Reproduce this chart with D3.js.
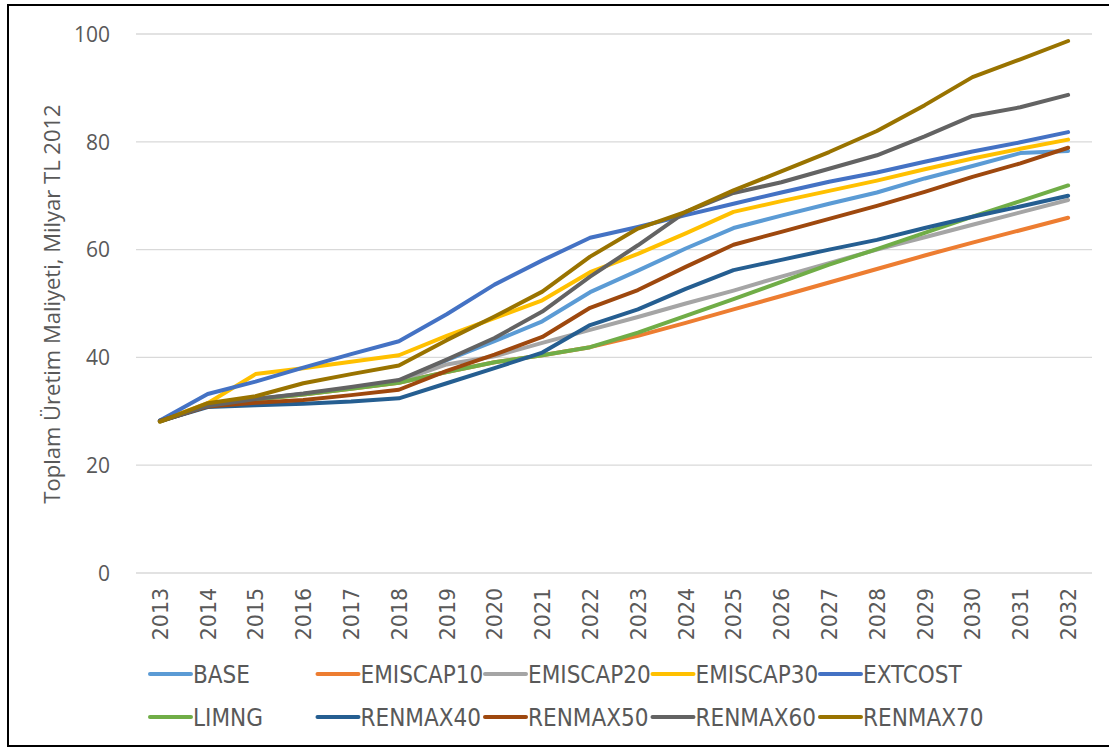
<!DOCTYPE html>
<html>
<head>
<meta charset="utf-8">
<script src="https://cdn.jsdelivr.net/npm/d3@7/dist/d3.min.js"></script>
<style>
  html, body { margin: 0; padding: 0; background: #fff; }
  svg { display: block; }
</style>
</head>
<body>
<svg id="chart" width="1109" height="749"></svg>
<script>
// Annual total generation cost per scenario (billion TL, 2012 prices)
const years = [2013, 2014, 2015, 2016, 2017, 2018, 2019, 2020, 2021, 2022,
               2023, 2024, 2025, 2026, 2027, 2028, 2029, 2030, 2031, 2032];

const seriesNames = ["BASE", "EMISCAP10", "EMISCAP20", "EMISCAP30", "EXTCOST",
                     "LIMNG", "RENMAX40", "RENMAX50", "RENMAX60", "RENMAX70"];

const base      = [28.3, 31.0, 32.3, 33.2, 34.3, 35.6, 39.5, 43.0, 46.7, 52.1, 56.1, 60.2, 64.0, 66.3, 68.5, 70.6, 73.2, 75.5, 77.9, 78.3];
const emiscap10 = [28.1, 31.0, 32.2, 33.1, 34.2, 35.3, 37.3, 39.1, 40.4, 41.9, 44.0, 46.4, 48.9, 51.4, 53.9, 56.4, 58.9, 61.3, 63.6, 65.9];
const emiscap20 = [28.2, 31.0, 32.3, 33.2, 34.3, 35.6, 38.7, 40.2, 42.7, 45.1, 47.5, 50.0, 52.4, 55.0, 57.5, 60.0, 62.3, 64.6, 66.9, 69.2];
const emiscap30 = [28.2, 31.5, 36.9, 38.0, 39.2, 40.4, 44.0, 47.3, 50.6, 55.8, 59.2, 63.0, 67.0, 69.0, 70.9, 72.8, 74.9, 76.9, 78.7, 80.4];
const extcost   = [28.3, 33.2, 35.5, 38.1, 40.6, 43.0, 48.0, 53.5, 58.0, 62.2, 64.2, 66.4, 68.5, 70.6, 72.6, 74.3, 76.3, 78.2, 79.9, 81.8];
const limng     = [28.1, 31.0, 32.2, 33.1, 34.2, 35.3, 37.3, 39.1, 40.4, 41.9, 44.6, 47.7, 50.8, 54.0, 57.2, 60.1, 63.1, 66.1, 69.0, 71.9];
const renmax40  = [28.2, 30.8, 31.1, 31.4, 31.8, 32.4, 35.2, 38.0, 40.9, 46.0, 48.9, 52.7, 56.2, 58.1, 60.0, 61.8, 64.0, 66.1, 68.0, 70.0];
const renmax50  = [28.2, 30.9, 31.6, 32.1, 33.0, 34.0, 37.5, 40.5, 43.8, 49.2, 52.5, 56.8, 60.9, 63.3, 65.7, 68.1, 70.7, 73.5, 76.0, 78.9];
const renmax60  = [28.2, 31.0, 32.3, 33.3, 34.5, 35.8, 39.6, 43.6, 48.5, 55.0, 60.8, 67.0, 70.5, 72.5, 75.0, 77.5, 81.0, 84.8, 86.4, 88.7];
const renmax70  = [28.1, 31.5, 32.8, 35.2, 36.9, 38.5, 43.2, 47.6, 52.2, 58.7, 63.9, 67.0, 71.0, 74.5, 78.1, 82.0, 86.8, 92.0, 95.3, 98.7];

const seriesValues = [base, emiscap10, emiscap20, emiscap30, extcost,
                      limng, renmax40, renmax50, renmax60, renmax70];

const seriesColors = ["#5B9BD5", "#ED7D31", "#A5A5A5", "#FFC000", "#4472C4",
                      "#70AD47", "#255E91", "#9E480E", "#636363", "#997300"];

const yTicks = [0, 20, 40, 60, 80, 100];
const yTitle = "Toplam Üretim Maliyeti, Milyar TL 2012";

const svg = d3.select("#chart");
const textColor = "#595959";
const tickFont = "'Open Sans', 'Segoe UI', sans-serif";

// outer frame
svg.append("rect")
  .attr("x", 8).attr("y", 5)
  .attr("width", 1120).attr("height", 741)
  .attr("fill", "#fff")
  .attr("stroke", "#000").attr("stroke-width", 2);

const plot = { left: 136, right: 1092, top: 34, bottom: 573 };

const x = d3.scalePoint()
  .domain(years)
  .range([plot.left, plot.right])
  .padding(0.5);

const y = d3.scaleLinear()
  .domain([0, 100])
  .range([plot.bottom, plot.top]);

// horizontal gridlines
svg.append("g")
  .selectAll("line")
  .data(yTicks)
  .join("line")
  .attr("x1", plot.left).attr("x2", plot.right)
  .attr("y1", d => y(d)).attr("y2", d => y(d))
  .attr("stroke", "#d9d9d9").attr("stroke-width", 1.3);

// y axis labels
const yAxis = svg.append("g")
  .attr("transform", `translate(${plot.left - 26},0)`)
  .call(d3.axisLeft(y).tickValues(yTicks).tickSize(0).tickPadding(0));
yAxis.select(".domain").remove();
yAxis.selectAll("text")
  .attr("fill", textColor)
  .style("font-family", tickFont)
  .style("font-size", "21px")
  .attr("dy", "0.35em");

// x axis labels, rotated
const xAxis = svg.append("g")
  .attr("transform", `translate(0,${plot.bottom})`)
  .call(d3.axisBottom(x).tickSize(0).tickPadding(0));
xAxis.select(".domain").remove();
xAxis.selectAll("text")
  .attr("fill", textColor)
  .style("font-family", "'DejaVu Sans', Verdana, sans-serif")
  .style("font-size", "20.5px")
  .attr("transform", "rotate(-90)")
  .attr("text-anchor", "end")
  .attr("x", -15)
  .attr("y", 0)
  .attr("dy", "0.36em");

// y axis title
svg.append("text")
  .attr("transform", `translate(52,${(103 + 505) / 2}) rotate(-90)`)
  .attr("text-anchor", "middle")
  .attr("dy", "0.35em")
  .attr("fill", textColor)
  .style("font-family", tickFont)
  .style("font-size", "22px")
  .text(yTitle);

// scenario lines
const line = d3.line()
  .x((d, i) => x(years[i]))
  .y(d => y(d));

svg.append("g")
  .selectAll("path")
  .data(seriesValues)
  .join("path")
  .attr("d", d => line(d))
  .attr("fill", "none")
  .attr("stroke", (d, i) => seriesColors[i])
  .attr("stroke-width", 4)
  .attr("stroke-linejoin", "round")
  .attr("stroke-linecap", "round");

// legend: two rows of five
const legendCol = d3.scaleLinear().domain([0, 4]).range([150, 820]);
const legendRow = d3.scaleLinear().domain([0, 1]).range([674, 717]);

const legend = svg.append("g")
  .selectAll("g")
  .data(seriesNames)
  .join("g")
  .attr("transform", (d, i) => `translate(${legendCol(i % 5)},${legendRow(Math.floor(i / 5))})`);

legend.append("line")
  .attr("x1", 0).attr("x2", 41)
  .attr("y1", 0).attr("y2", 0)
  .attr("stroke", (d, i) => seriesColors[i])
  .attr("stroke-width", 4)
  .attr("stroke-linecap", "round");

legend.append("text")
  .attr("x", 43)
  .attr("y", 0)
  .attr("dy", "0.36em")
  .attr("fill", textColor)
  .style("font-family", "'Liberation Sans Narrow', 'DejaVu Sans Condensed', sans-serif")
  .style("font-size", "24px")
  .text(d => d);
</script>
</body>
</html>
